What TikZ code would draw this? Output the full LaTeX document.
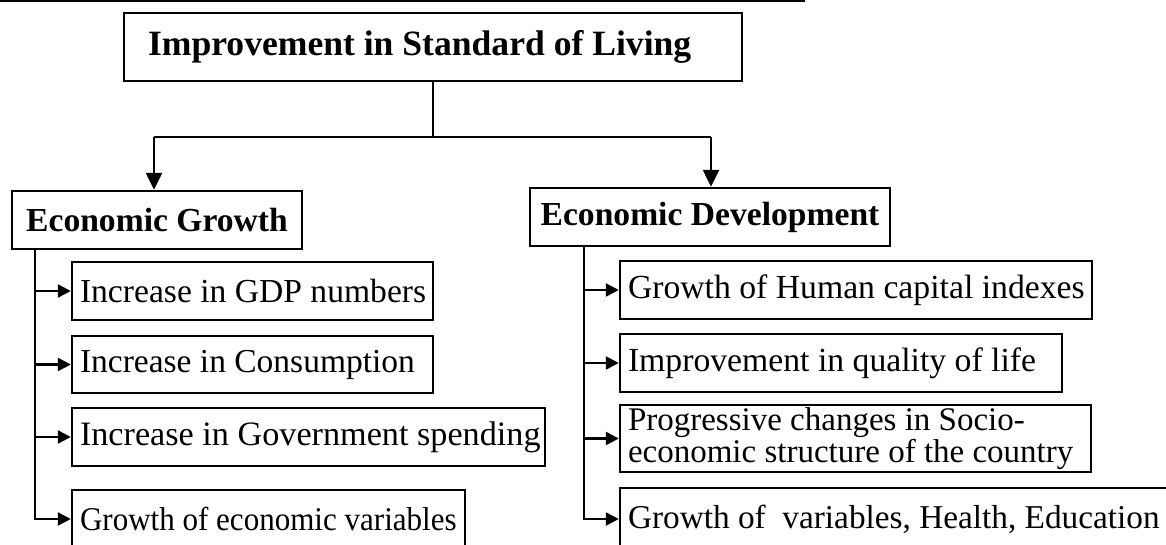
\documentclass[tikz,border=0pt]{standalone}
\usepackage{fontspec}
\setmainfont{Liberation Serif}
\usetikzlibrary{arrows.meta}
\newcommand{\fs}[1]{\fontsize{#1}{#1}\selectfont}
\newcommand{\lbox}[2]{\makebox[#1][l]{#2}}
\begin{document}
\begin{tikzpicture}[x=1pt,y=-1pt,
  box/.style={draw, line width=2.4pt, inner ysep=0pt, inner xsep=8pt},
  headbox/.style={draw, line width=2.4pt, inner sep=0pt, align=center},
  conn/.style={line width=2.4pt},
  arr/.style={conn, -{Triangle[length=13pt,width=13pt]}},
  bigarr/.style={conn, -{Triangle[length=17pt,width=16pt]}}]
\useasboundingbox (0,0) rectangle (1166,545);
\clip (0,0) rectangle (1166,545);
% top rule
\coordinate (r1) at (0,1);
\coordinate (r2) at (805,1);
\draw[line width=3pt] (r1) -- (r2);
% heads
\node[box, inner xsep=24pt, minimum height=68pt, font=\fs{35.6}\bfseries] (top) at (433,47) {\lbox{570pt}{Improvement in Standard of Living}};
\node[headbox, minimum width=290pt, minimum height=58pt, font=\fs{33.6}\bfseries] (eg) at (157,220) {Economic Growth};
\node[headbox, minimum width=360pt, minimum height=58pt, font=\fs{33.6}\bfseries] (ed) at (710,217) {Economic Development};
% left items
\node[box, minimum height=58pt, font=\fs{33.6}] (g1) at (252.5,291) {\lbox{345pt}{Increase in GDP numbers}};
\node[box, minimum height=57pt, font=\fs{33.5}] (g2) at (252.5,364.5) {\lbox{345pt}{Increase in Consumption}};
\node[box, minimum height=58pt, font=\fs{34.2}] (g3) at (308.5,437) {\lbox{457pt}{Increase in Government spending}};
\node[box, minimum height=58pt, font=\fs{33.2}] (g4) at (268.5,519) {\lbox{377pt}{\scalebox{0.935}[1]{Growth of economic variables}}};
% right items
\node[box, minimum height=58pt, font=\fs{33.7}] (d1) at (856,290) {\lbox{456pt}{Growth of Human capital indexes}};
\node[box, minimum height=58pt, font=\fs{33.7}] (d2) at (841,363) {\lbox{426pt}{Improvement in quality of life}};
\node[box, minimum height=67pt, align=left, font=\fontsize{33}{28}\selectfont] (d3) at (855.5,438.5) {\lbox{455pt}{Progressive changes in Socio-}\\\lbox{455pt}{economic structure of the country}};
\node[box, minimum height=62pt, font=\fs{33.3}] (d4) at (895,519) {\lbox{534pt}{Growth of\ \ variables, Health, Education}};
% top connectors
\coordinate (j) at (433,137);
\coordinate (jl) at (154,137);
\coordinate (jr) at (711,137);
\draw[conn] (top.south) -- (j);
\draw[conn] (jl) -- (jr);
\draw[bigarr] (jl) -- (jl |- eg.north);
\draw[bigarr] (jr) -- (jr |- ed.north);
% left trunk
\coordinate (tl) at (35,249);
\draw[arr] (tl) |- (g4.west);
\draw[arr] (tl |- g1.west) -- (g1.west);
\draw[arr] (tl |- g2.west) -- (g2.west);
\draw[arr] (tl |- g3.west) -- (g3.west);
% right trunk
\coordinate (tr) at (584,246);
\draw[arr] (tr) |- (d4.west);
\draw[arr] (tr |- d1.west) -- (d1.west);
\draw[arr] (tr |- d2.west) -- (d2.west);
\draw[arr] (tr |- d3.west) -- (d3.west);
\end{tikzpicture}
\end{document}
